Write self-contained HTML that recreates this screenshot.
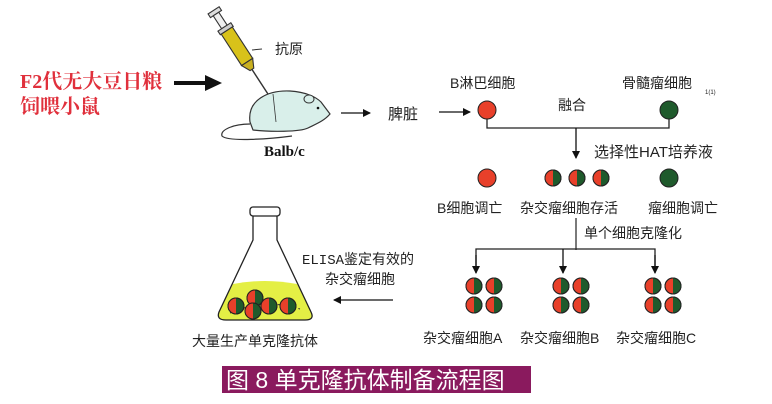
<!DOCTYPE html>
<html><head><meta charset="utf-8"><style>
html,body{margin:0;padding:0;background:#fff;}
svg{display:block;}
text{font-family:"Liberation Sans","Noto Sans CJK SC",sans-serif;}
</style></head><body>
<svg width="772" height="404" viewBox="0 0 772 404" xmlns="http://www.w3.org/2000/svg">
<defs>
<marker id="ah" markerWidth="8" markerHeight="8" refX="7" refY="4" orient="auto" markerUnits="userSpaceOnUse"><path d="M0,0 L8,4 L0,8 Z" fill="#111"/></marker>
<g id="hy"><circle r="8" fill="#1f5a2c" stroke="#222" stroke-width="1"/><path d="M0,-8 A8,8 0 0 0 0,8 Z" fill="#e8402a"/><circle r="8" fill="none" stroke="#222" stroke-width="1"/></g>
<g id="hyr"><circle r="8" fill="#e8402a" stroke="#222" stroke-width="1"/><path d="M0,-8 A8,8 0 0 1 0,8 Z" fill="#1f5a2c"/><circle r="8" fill="none" stroke="#222" stroke-width="1"/></g>
</defs>
<rect width="772" height="404" fill="#fff"/>

<text x="20" y="88" font-size="20" font-weight="bold" fill="#e0303c" style="font-family:'Liberation Serif','Noto Serif CJK SC',serif">F2代无大豆日粮</text>
<text x="20" y="113" font-size="20" font-weight="bold" fill="#e0303c" style="font-family:'Liberation Serif','Noto Serif CJK SC',serif">饲喂小鼠</text>
<line x1="174" y1="83" x2="208" y2="83" stroke="#111" stroke-width="4"/>
<path d="M205,75 L222,83 L205,91 Z" fill="#111"/>

<!-- syringe -->
<g transform="translate(216,14) rotate(-33) scale(1.1)">
<rect x="-6" y="-4" width="12" height="4" fill="#ddd" stroke="#333"/>
<rect x="-3" y="0" width="6" height="14" fill="#eee" stroke="#333"/>
<rect x="-7" y="14" width="14" height="4" fill="#ccc" stroke="#333"/>
<rect x="-6" y="18" width="12" height="34" fill="#d8c21a" stroke="#333"/>
<path d="M-6,52 L6,52 L2,60 L-2,60 Z" fill="#c9b020" stroke="#333"/>
<line x1="0" y1="60" x2="0" y2="92" stroke="#333" stroke-width="1.3"/>
</g>
<line x1="252" y1="50" x2="262" y2="49" stroke="#333"/>
<text x="275" y="54" font-size="14" fill="#222">抗原</text>

<!-- mouse -->
<path d="M250,122 C247,100 268,90 290,91 C306,92 316,97 321,102 L330,114 C324,121 316,124 308,128 C300,132 270,132 253,130 Z" fill="#d9efea" stroke="#333" stroke-width="1.2"/>
<path d="M250,124 C233,124 220,130 222,136 C228,142 270,139 292,136" fill="none" stroke="#333" stroke-width="1.2"/>
<ellipse cx="309" cy="99" rx="5" ry="4" fill="#d9efea" stroke="#333"/>
<circle cx="318" cy="108" r="1.3" fill="#111"/>
<line x1="273" y1="94" x2="276" y2="122" stroke="#333" stroke-width="0.8"/>
<text x="264" y="156" font-size="15" font-weight="bold" fill="#111" style="font-family:'Liberation Serif',serif">Balb/c</text>

<line x1="341" y1="113" x2="370" y2="113" stroke="#111" stroke-width="1.3" marker-end="url(#ah)"/>
<text x="388" y="119" font-size="15" fill="#222">脾脏</text>
<line x1="439" y1="112" x2="470" y2="112" stroke="#111" stroke-width="1.3" marker-end="url(#ah)"/>

<text x="450" y="88" font-size="14" fill="#222">B淋巴细胞</text>
<text x="622" y="88" font-size="14" fill="#222">骨髓瘤细胞</text>
<text x="705" y="94" font-size="6" fill="#222">1(1)</text>
<text x="558" y="110" font-size="14" fill="#222">融合</text>
<circle cx="487" cy="110" r="9" fill="#e8402a" stroke="#222"/>
<circle cx="669" cy="110" r="9" fill="#1f5a2c" stroke="#222"/>
<path d="M487,119 V128 H669 V119" fill="none" stroke="#222" stroke-width="1.3"/>
<line x1="576" y1="128" x2="576" y2="158" stroke="#111" stroke-width="1.3" marker-end="url(#ah)"/>
<text x="594" y="157" font-size="15" fill="#222">选择性HAT培养液</text>

<circle cx="487" cy="178" r="9" fill="#e8402a" stroke="#222"/>
<use href="#hy" x="553" y="178"/>
<use href="#hy" x="577" y="178"/>
<use href="#hy" x="601" y="178"/>
<circle cx="669" cy="178" r="9" fill="#1f5a2c" stroke="#222"/>
<text x="437" y="213" font-size="14" fill="#222">B细胞调亡</text>
<text x="520" y="213" font-size="14" fill="#222">杂交瘤细胞存活</text>
<text x="648" y="213" font-size="14" fill="#222">瘤细胞调亡</text>

<line x1="576" y1="218" x2="576" y2="250" stroke="#222" stroke-width="1.2"/>
<text x="584" y="238" font-size="14" fill="#222">单个细胞克隆化</text>
<path d="M476,271 V249 H655 V271" fill="none" stroke="#222" stroke-width="1.3"/>
<line x1="476" y1="255" x2="476" y2="273" stroke="#111" stroke-width="1.3" marker-end="url(#ah)"/>
<line x1="563" y1="249" x2="563" y2="273" stroke="#111" stroke-width="1.3" marker-end="url(#ah)"/>
<line x1="655" y1="255" x2="655" y2="273" stroke="#111" stroke-width="1.3" marker-end="url(#ah)"/>

<use href="#hy" x="474" y="286"/><use href="#hyr" x="494" y="286"/>
<use href="#hy" x="474" y="305"/><use href="#hyr" x="494" y="305"/>
<use href="#hy" x="561" y="286"/><use href="#hyr" x="581" y="286"/>
<use href="#hy" x="561" y="305"/><use href="#hyr" x="581" y="305"/>
<use href="#hy" x="653" y="286"/><use href="#hyr" x="673" y="286"/>
<use href="#hy" x="653" y="305"/><use href="#hyr" x="673" y="305"/>
<text x="423" y="343" font-size="14" fill="#222">杂交瘤细胞A</text>
<text x="520" y="343" font-size="14" fill="#222">杂交瘤细胞B</text>
<text x="616" y="343" font-size="14" fill="#222">杂交瘤细胞C</text>

<text x="302" y="264" font-size="14" fill="#222" style="font-family:'Liberation Mono','Noto Sans CJK SC',monospace">ELISA鉴定有效的</text>
<text x="325" y="284" font-size="14" fill="#222">杂交瘤细胞</text>
<line x1="393" y1="300" x2="334" y2="300" stroke="#111" stroke-width="1.3" marker-end="url(#ah)"/>

<!-- flask -->
<path d="M233,284 Q265,278 297,284 L311,312 Q315,320 305,320 L226,320 Q216,320 219,312 Z" fill="#e4ef45"/>
<path d="M253,216 V240 L219,312 Q216,320 226,320 L305,320 Q315,320 311,312 L277,240 V216" fill="none" stroke="#222" stroke-width="1.3"/>
<rect x="250" y="207" width="30" height="9" rx="3" fill="#fff" stroke="#222" stroke-width="1.3"/>
<path d="M230,313 Q265,298 300,309" fill="none" stroke="#333" stroke-width="1" stroke-dasharray="4,3"/>
<use href="#hy" x="236" y="306"/><use href="#hy" x="255" y="298"/>
<use href="#hy" x="253" y="311"/><use href="#hy" x="269" y="306"/><use href="#hy" x="288" y="306"/>
<text x="192" y="346" font-size="14" fill="#222">大量生产单克隆抗体</text>

<rect x="222" y="366" width="309" height="27" fill="#8a1a5e"/>
<text x="226" y="388" font-size="23" fill="#fff">图 8  单克隆抗体制备流程图</text>
</svg>
</body></html>
